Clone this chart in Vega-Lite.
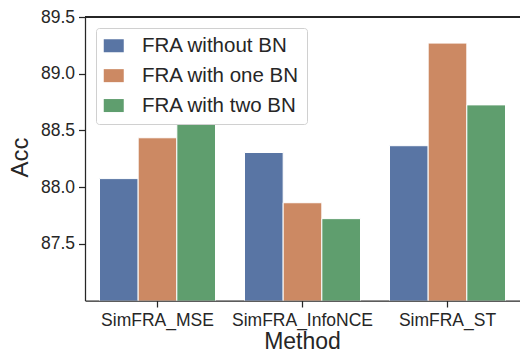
{
  "$schema": "https://vega.github.io/schema/vega-lite/v6.json",
  "width": 435,
  "height": 283.5,
  "autosize": {"type": "none"},
  "padding": {"left": 85, "top": 17, "right": 0, "bottom": 52.5},
  "background": "white",
  "config": {
    "font": "Liberation Sans",
    "view": {"stroke": null},
    "axis": {"domainColor": "#262626", "domainWidth": 1.25, "tickColor": "#262626", "tickWidth": 1.25, "tickSize": 6.5, "labelColor": "#262626", "titleColor": "#262626", "grid": false, "labelFontSize": 17.5, "titleFontSize": 24, "titleFontWeight": "normal"}
  },
  "data": {
    "values": [
      {"Method": "SimFRA_MSE", "Variant": "FRA without BN", "Acc": 88.075},
      {"Method": "SimFRA_MSE", "Variant": "FRA with one BN", "Acc": 88.435},
      {"Method": "SimFRA_MSE", "Variant": "FRA with two BN", "Acc": 88.555},
      {"Method": "SimFRA_InfoNCE", "Variant": "FRA without BN", "Acc": 88.305},
      {"Method": "SimFRA_InfoNCE", "Variant": "FRA with one BN", "Acc": 87.862},
      {"Method": "SimFRA_InfoNCE", "Variant": "FRA with two BN", "Acc": 87.722},
      {"Method": "SimFRA_ST", "Variant": "FRA without BN", "Acc": 88.365},
      {"Method": "SimFRA_ST", "Variant": "FRA with one BN", "Acc": 89.27},
      {"Method": "SimFRA_ST", "Variant": "FRA with two BN", "Acc": 88.725}
    ]
  },
  "layer": [
    {
      "mark": {"type": "bar", "clip": true, "stroke": "white", "strokeWidth": 1},
      "encoding": {
        "x": {
          "field": "Method", "type": "nominal", "sort": ["SimFRA_MSE", "SimFRA_InfoNCE", "SimFRA_ST"],
          "scale": {"paddingInner": 0.2, "paddingOuter": 0.1},
          "axis": {"labelAngle": 0, "labelPadding": 4, "title": "Method", "titleFontSize": 23, "titleX": 217, "titleY": 47.5, "titleBaseline": "alphabetic", "titleAnchor": null}
        },
        "xOffset": {
          "field": "Variant", "type": "nominal", "sort": ["FRA without BN", "FRA with one BN", "FRA with two BN"],
          "scale": {"paddingInner": 0, "paddingOuter": 0}
        },
        "y": {
          "field": "Acc", "type": "quantitative",
          "scale": {"domain": [87.0, 89.5], "zero": false, "nice": false},
          "axis": {"values": [87.5, 88.0, 88.5, 89.0, 89.5], "format": ".1f", "labelPadding": 4, "title": "Acc", "titleX": -57.5, "titleY": 140, "titleAngle": 270, "titleAlign": "center", "titleBaseline": "alphabetic"}
        },
        "color": {
          "field": "Variant", "type": "nominal", "sort": ["FRA without BN", "FRA with one BN", "FRA with two BN"],
          "scale": {"range": ["#5975A4", "#CC8963", "#5F9E6E"]},
          "legend": {
            "title": null, "orient": "none", "legendX": 11, "legendY": 11,
            "symbolType": "M-1,-0.65H1V0.65H-1Z", "symbolSize": 400, "symbolStrokeWidth": 0,
            "labelFontSize": 20.5, "labelColor": "#262626", "labelOffset": 18,
            "rowPadding": 8.9, "padding": 7.5,
            "fillColor": "rgba(255,255,255,0.8)", "strokeColor": "#d0d0d0", "cornerRadius": 3
          }
        }
      }
    },
    {
      "mark": {"type": "rule", "color": "#262626", "strokeWidth": 1.25},
      "encoding": {"y": {"datum": 89.5}}
    }
  ]
}
